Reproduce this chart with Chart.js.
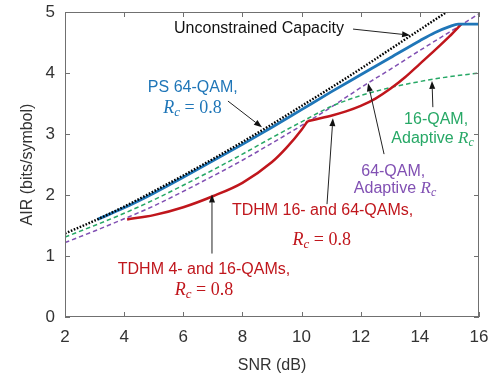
<!DOCTYPE html>
<html>
<head>
<meta charset="utf-8">
<script src="https://cdn.jsdelivr.net/npm/chart.js@4/dist/chart.umd.min.js"></script>
<style>
  html, body { margin: 0; padding: 0; background: #ffffff; }
  #air { display: block; }
</style>
</head>
<body>
<canvas id="air" width="494" height="381"></canvas>
<script>
// ============================================
// データ
// ============================================
const xTicks = [2, 4, 6, 8, 10, 12, 14, 16];
const yTicks = [0, 1, 2, 3, 4, 5];

// 無制約容量（黒の点線）
const capSnr = [2, 3, 4, 5, 6, 7, 8, 9, 10, 11, 12, 13, 14, 15];
const capAir = [1.37, 1.58, 1.81, 2.06, 2.32, 2.59, 2.87, 3.16, 3.46, 3.76, 4.07, 4.39, 4.71, 5.03];

// PS 64-QAM（青の実線）
const psSnr = [3.1, 4, 5, 6, 7, 8, 9, 10, 11, 12, 13, 14, 14.5, 15, 15.3, 16];
const psAir = [1.60, 1.79, 2.03, 2.29, 2.56, 2.83, 3.11, 3.40, 3.69, 3.97, 4.25, 4.53, 4.66, 4.76, 4.80, 4.80];

// 16-QAM 適応Rc（緑の破線）
const qam16Snr = [2, 3, 4, 5, 6, 7, 8, 9, 10, 11, 12, 13, 14, 15, 16];
const qam16Air = [1.31, 1.50, 1.70, 1.92, 2.16, 2.41, 2.67, 2.94, 3.20, 3.45, 3.63, 3.76, 3.86, 3.94, 4.00];

// 64-QAM 適応Rc（紫の破線）
const qam64Snr = [2, 3, 4, 5, 6, 7, 8, 9, 10, 11, 12, 13, 14, 15, 16];
const qam64Air = [1.22, 1.41, 1.61, 1.82, 2.06, 2.31, 2.57, 2.85, 3.14, 3.44, 3.76, 4.06, 4.37, 4.67, 4.97];

// TDHM（赤の実線）：10.2 dB で折れるので2本に分ける
const tdhmLoSnr = [4.1, 5, 6, 7, 8, 9, 9.5, 10, 10.2];
const tdhmLoAir = [1.60, 1.67, 1.80, 1.98, 2.20, 2.54, 2.78, 3.07, 3.21];
const tdhmHiSnr = [10.2, 11, 11.5, 12, 12.5, 13, 13.5, 14, 14.5, 15, 15.4];
const tdhmHiAir = [3.21, 3.30, 3.37, 3.46, 3.58, 3.74, 3.93, 4.15, 4.37, 4.60, 4.80];

const pts = (xs, ys) => xs.map((x, i) => ({ x: x, y: ys[i] }));

// ============================================
// 色
// ============================================
const BLUE = "#1f76b8";
const RED = "#c0161c";
const GREEN = "#27a866";
const PURPLE = "#8150b3";
const AXIS = "#707070";

// ============================================
// 注釈（テキストと矢印、データ座標）
// ============================================
const SANS = "16px 'Liberation Sans', Arial, sans-serif";
const rc = (color) => [
  { t: "R", font: "italic 18px 'Liberation Serif', serif", color: color },
  { t: "c", font: "italic 13px 'Liberation Serif', serif", color: color, dy: 4 },
  { t: " = 0.8", font: "18px 'Liberation Serif', serif", color: color },
];
const adaptive = (color) => [
  { t: "Adaptive ", font: SANS, color: color },
  { t: "R", font: "italic 17px 'Liberation Serif', serif", color: color },
  { t: "c", font: "italic 12px 'Liberation Serif', serif", color: color, dy: 4 },
];

const labels = [
  { x: 8.56, y: 4.73, parts: [{ t: "Unconstrained Capacity", font: SANS, color: "#111" }] },
  { x: 6.32, y: 3.76, parts: [{ t: "PS 64-QAM,", font: SANS, color: BLUE }] },
  { x: 6.31, y: 3.42, parts: rc(BLUE) },
  { x: 14.55, y: 3.24, parts: [{ t: "16-QAM,", font: SANS, color: GREEN }] },
  { x: 14.43, y: 2.92, parts: adaptive(GREEN) },
  { x: 13.10, y: 2.38, parts: [{ t: "64-QAM,", font: SANS, color: PURPLE }] },
  { x: 13.16, y: 2.10, parts: adaptive(PURPLE) },
  { x: 10.71, y: 1.75, parts: [{ t: "TDHM 16- and 64-QAMs,", font: SANS, color: RED }] },
  { x: 10.68, y: 1.26, parts: rc(RED) },
  { x: 6.70, y: 0.77, parts: [{ t: "TDHM 4- and 16-QAMs,", font: SANS, color: RED }] },
  { x: 6.70, y: 0.44, parts: rc(RED) },
];

const arrows = [
  { x0: 11.74, y0: 4.72, x1: 13.67, y1: 4.62 },
  { x0: 7.51, y0: 3.54, x1: 8.66, y1: 3.11 },
  { x0: 14.44, y0: 3.44, x1: 14.41, y1: 3.87 },
  { x0: 12.79, y0: 2.67, x1: 12.25, y1: 3.83 },
  { x0: 10.86, y0: 1.85, x1: 11.06, y1: 3.26 },
  { x0: 6.97, y0: 1.04, x1: 6.97, y1: 2.01 },
];

// ============================================
// 枠線と内向きの目盛り（MATLAB風）
// ============================================
const boxPlugin = {
  id: "box",
  afterDatasetsDraw(chart) {
    const { ctx, chartArea: a, scales } = chart;
    ctx.save();
    ctx.strokeStyle = AXIS;
    ctx.lineWidth = 1;
    ctx.strokeRect(a.left + 0.5, a.top + 0.5, a.right - a.left - 1, a.bottom - a.top - 1);
    ctx.beginPath();
    const len = 5;
    xTicks.forEach((v) => {
      const px = Math.round(scales.x.getPixelForValue(v)) + 0.5;
      ctx.moveTo(px, a.bottom);
      ctx.lineTo(px, a.bottom - len);
      ctx.moveTo(px, a.top);
      ctx.lineTo(px, a.top + len);
    });
    yTicks.forEach((v) => {
      const py = Math.round(scales.y.getPixelForValue(v)) + 0.5;
      ctx.moveTo(a.left, py);
      ctx.lineTo(a.left + len, py);
      ctx.moveTo(a.right, py);
      ctx.lineTo(a.right - len, py);
    });
    ctx.stroke();
    ctx.restore();
  },
};

// ============================================
// 注釈の描画
// ============================================
function drawParts(ctx, cx, cy, parts) {
  let w = 0;
  parts.forEach((p) => {
    ctx.font = p.font;
    p.w = ctx.measureText(p.t).width;
    w += p.w;
  });
  let x = cx - w / 2;
  ctx.textBaseline = "middle";
  ctx.textAlign = "left";
  parts.forEach((p) => {
    ctx.font = p.font;
    ctx.fillStyle = p.color;
    ctx.fillText(p.t, x, cy + (p.dy || 0));
    x += p.w;
  });
}

const notePlugin = {
  id: "notes",
  afterDraw(chart) {
    const { ctx, scales } = chart;
    const X = (v) => scales.x.getPixelForValue(v);
    const Y = (v) => scales.y.getPixelForValue(v);
    ctx.save();
    labels.forEach((l) => drawParts(ctx, X(l.x), Y(l.y), l.parts));

    ctx.strokeStyle = "#222";
    ctx.fillStyle = "#111";
    ctx.lineWidth = 1;
    arrows.forEach((ar) => {
      const x0 = X(ar.x0), y0 = Y(ar.y0), x1 = X(ar.x1), y1 = Y(ar.y1);
      const ang = Math.atan2(y1 - y0, x1 - x0);
      const hl = 8, hw = 3;
      ctx.beginPath();
      ctx.moveTo(x0, y0);
      ctx.lineTo(x1 - hl * Math.cos(ang), y1 - hl * Math.sin(ang));
      ctx.stroke();
      ctx.beginPath();
      ctx.moveTo(x1, y1);
      ctx.lineTo(x1 - hl * Math.cos(ang) + hw * Math.sin(ang), y1 - hl * Math.sin(ang) - hw * Math.cos(ang));
      ctx.lineTo(x1 - hl * Math.cos(ang) - hw * Math.sin(ang), y1 - hl * Math.sin(ang) + hw * Math.cos(ang));
      ctx.closePath();
      ctx.fill();
    });
    ctx.restore();
  },
};

// ============================================
// グラフ本体
// ============================================
const tickFont = { family: "'Liberation Sans', Arial, sans-serif", size: 17 };
const titleFont = { family: "'Liberation Sans', Arial, sans-serif", size: 16 };

new Chart(document.getElementById("air"), {
  type: "line",
  data: {
    datasets: [
      {
        label: "PS 64-QAM",
        data: pts(psSnr, psAir),
        borderColor: BLUE,
        borderWidth: 2.8,
        order: 3,
      },
      {
        label: "Unconstrained Capacity",
        data: pts(capSnr, capAir),
        borderColor: "#000",
        borderWidth: 2.4,
        borderDash: [1.6, 1.6],
        order: 2,
      },
      {
        label: "16-QAM Adaptive Rc",
        data: pts(qam16Snr, qam16Air),
        borderColor: GREEN,
        borderWidth: 1.5,
        borderDash: [4.5, 3],
        order: 5,
      },
      {
        label: "64-QAM Adaptive Rc",
        data: pts(qam64Snr, qam64Air),
        borderColor: PURPLE,
        borderWidth: 1.5,
        borderDash: [4.5, 3],
        order: 6,
      },
      {
        label: "TDHM 4/16",
        data: pts(tdhmLoSnr, tdhmLoAir),
        borderColor: RED,
        borderWidth: 2.5,
        order: 4,
      },
      {
        label: "TDHM 16/64",
        data: pts(tdhmHiSnr, tdhmHiAir),
        borderColor: RED,
        borderWidth: 2.5,
        order: 4,
      },
    ],
  },
  options: {
    responsive: false,
    animation: false,
    devicePixelRatio: 1,
    elements: {
      point: { radius: 0 },
      line: { cubicInterpolationMode: "monotone", fill: false },
    },
    layout: { padding: { top: 12, right: 15, left: 0, bottom: 0 } },
    plugins: { legend: { display: false }, tooltip: { enabled: false } },
    scales: {
      x: {
        type: "linear",
        min: 2,
        max: 16,
        afterBuildTicks: (s) => { s.ticks = xTicks.map((v) => ({ value: v })); },
        afterFit: (s) => {
          s.height = 64;
          s.paddingLeft = 0;
          s.paddingRight = 0;
        },
        grid: { display: false, drawTicks: false },
        border: { display: false },
        ticks: { font: tickFont, color: "#333", padding: 10, maxRotation: 0 },
        title: { display: true, text: "SNR (dB)", font: titleFont, color: "#333", padding: { top: 0, bottom: 6 } },
      },
      y: {
        type: "linear",
        min: 0,
        max: 5,
        afterBuildTicks: (s) => { s.ticks = yTicks.map((v) => ({ value: v })); },
        afterFit: (s) => {
          s.width = 65;
          s.paddingTop = 0;
          s.paddingBottom = 0;
        },
        grid: { display: false, drawTicks: false },
        border: { display: false },
        ticks: { font: tickFont, color: "#333", padding: 10 },
        title: { display: true, text: "AIR (bits/symbol)", font: titleFont, color: "#333", padding: { top: 18, bottom: 0 } },
      },
    },
  },
  plugins: [boxPlugin, notePlugin],
});
</script>
</body>
</html>
